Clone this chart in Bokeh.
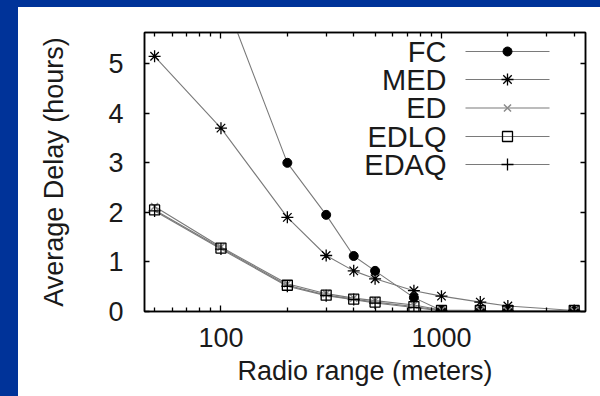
import math
from bokeh.plotting import figure
from bokeh.models import FixedTicker, LogAxis, LinearAxis, Range1d, BasicTickFormatter
from bokeh.embed import file_html
from bokeh.resources import INLINE
from bokeh.core.properties import value

nan = float("nan")

# ---- data ----
radio_range = [50, 100, 200, 300, 400, 500, 750, 1000, 1500, 2000, 4000]
fc   = [nan, 6.5, 3.00, 1.95, 1.12, 0.82, 0.28, 0.02, 0.01, 0.01, 0.01]
med  = [5.15, 3.70, 1.90, 1.13, 0.82, 0.66, 0.42, 0.31, 0.19, 0.11, 0.02]
ed   = [2.12, 1.30, 0.56, 0.36, 0.27, 0.22, 0.13, 0.03, 0.02, 0.01, 0.01]
edlq = [2.05, 1.28, 0.53, 0.33, 0.25, 0.19, 0.10, 0.02, 0.02, 0.02, 0.02]
edaq = [2.03, 1.26, 0.51, 0.32, 0.24, 0.17, 0.08, 0.01, 0.01, 0.01, 0.01]
series_names = ["FC", "MED", "ED", "EDLQ", "EDAQ"]
series_values = [fc, med, ed, edlq, edaq]

x_major_ticks = [100, 1000]
x_minor_ticks = [50, 60, 70, 80, 90, 200, 300, 400, 500, 600, 700, 800, 900,
                 2000, 3000, 4000]
y_ticks = [0, 1, 2, 3, 4, 5]
x_label = "Radio range (meters)"
y_label = "Average Delay (hours)"

# ---- styles ----
FONT = "Liberation Sans"
TEXT = "#1a1a1a"
LINE = "#7a7a7a"
styles = {
    "FC":   dict(marker="circle", size=9, fill_color="black", line_color="black"),
    "MED":  dict(marker="asterisk", size=12, fill_color=None, line_color="black", line_width=1.3),
    "ED":   dict(marker="x", size=10, fill_color=None, line_color="#8a8a8a", line_width=1.5),
    "EDLQ": dict(marker="square", size=10, fill_color=None, line_color="black", line_width=1.3),
    "EDAQ": dict(marker="cross", size=12, fill_color=None, line_color="black", line_width=1.3),
}

X0, X1 = 45, 4500
Y0, Y1 = 0, 5.63
FW, FH = 441, 279  # frame size in px

p = figure(width=592, height=390, x_axis_type="log",
           x_range=Range1d(X0, X1), y_range=Range1d(Y0, Y1),
           output_backend="svg", toolbar_location=None,
           min_border_left=144, min_border_right=7,
           min_border_top=32, min_border_bottom=79)
p.border_fill_color = None
p.background_fill_color = "white"
p.outline_line_color = "black"
p.outline_line_width = 1.5
p.grid.visible = False

xt = FixedTicker(ticks=x_major_ticks, minor_ticks=x_minor_ticks)
yt = FixedTicker(ticks=y_ticks, minor_ticks=[])

def style_axis(ax, labels=True, major_in=6, minor_in=4):
    ax.axis_line_color = "black"
    ax.axis_line_width = 1.5
    ax.major_tick_in = major_in
    ax.major_tick_out = 0
    ax.minor_tick_in = minor_in
    ax.minor_tick_out = 0
    ax.major_tick_line_color = "black"
    ax.minor_tick_line_color = "black"
    ax.major_tick_line_width = 1.3
    ax.minor_tick_line_width = 1.3
    if labels:
        ax.major_label_text_font = FONT
        ax.major_label_text_font_size = "27px"
        ax.major_label_text_color = TEXT
        ax.axis_label_text_font = FONT
        ax.axis_label_text_font_size = "27px"
        ax.axis_label_text_font_style = "normal"
        ax.axis_label_text_color = TEXT
    else:
        ax.major_label_text_font_size = "1px"
        ax.major_label_text_color = None
        ax.major_label_standoff = 0

xa = p.xaxis[0]
xa.ticker = xt
xa.formatter = BasicTickFormatter()
style_axis(xa)
xa.axis_label = x_label
xa.major_label_standoff = 16
xa.axis_label_standoff = 6

ya = p.yaxis[0]
ya.ticker = yt
style_axis(ya, major_in=5)
ya.axis_label = y_label
ya.major_label_standoff = 21
ya.axis_label_standoff = 36

top = LogAxis(ticker=xt)
style_axis(top, labels=False)
p.add_layout(top, "above")
right = LinearAxis(ticker=yt)
style_axis(right, labels=False, major_in=5)
p.add_layout(right, "right")

# ---- series ----
for name, vals in zip(series_names, series_values):
    p.line(radio_range, vals, line_color=LINE, line_width=1.1)
for name, vals in zip(series_names, series_values):
    p.scatter(radio_range, vals, **styles[name])

# ---- legend (labels on the left, sample on the right) ----
def xdata(px):
    return 10 ** (math.log10(X0) + px / FW * (math.log10(X1) - math.log10(X0)))

def ydata(px):
    return Y0 + px / FH * (Y1 - Y0)

row_px = [260, 232, 203.5, 175, 147]
for name, r in zip(series_names, row_px):
    yy = ydata(r)
    p.text([xdata(302)], [yy], text=[name], text_align="right",
           text_baseline="middle", text_font=value(FONT),
           text_font_size="29px", text_color=TEXT)
    p.segment([xdata(321)], [yy], [xdata(405)], [yy], line_color=LINE, line_width=1.1)
    p.scatter([xdata(363)], [yy], **styles[name])

html = file_html(p, INLINE, title="Average Delay")
css = ("<style>html{background:"
       "linear-gradient(#003399,#003399) 0 0/100% 7px no-repeat,"
       "linear-gradient(#003399,#003399) 0 0/18px 100% no-repeat,#ffffff;}</style>")
html = html.replace("</head>", css + "</head>", 1)
open("out.html", "w").write(html)
